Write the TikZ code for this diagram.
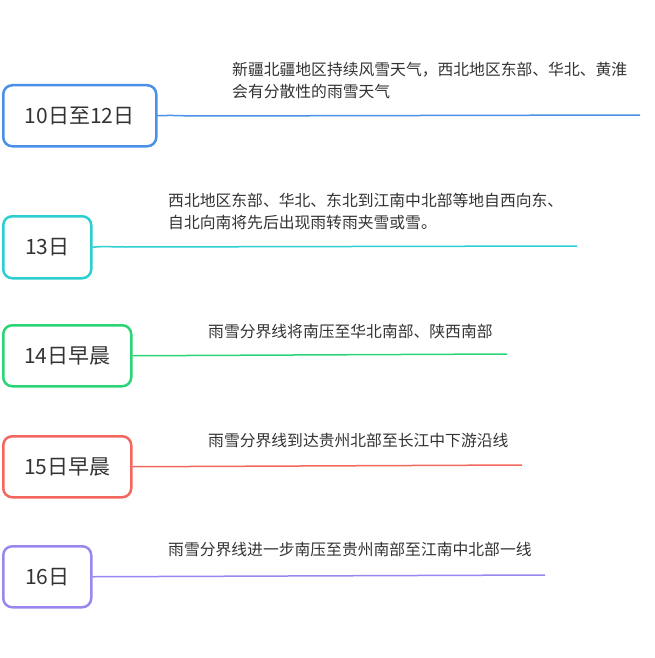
\documentclass[tikz,border=0pt]{standalone}
\usepackage{fontspec}
\setmainfont{Noto Sans CJK SC}
\begin{document}
\begin{tikzpicture}[x=1pt,y=-1pt,
  lab/.style={draw,line width=2.5pt,rounded corners=9pt,anchor=north west,inner sep=0pt,font=\fontsize{21}{24}\selectfont,text=black!80},
  conn/.style={line width=1.5pt},
  txt/.style={anchor=north west,font=\fontsize{15.8}{22}\selectfont,text=black!80,align=left,inner sep=0pt}]
\useasboundingbox (0,0) rectangle (654,658);
\definecolor{cb}{HTML}{4A90E8}\definecolor{cc}{HTML}{2CCFCF}\definecolor{cg}{HTML}{2BD475}
\definecolor{cr}{HTML}{F2675E}\definecolor{cp}{HTML}{9B86F0}
\node[lab,draw=cb,minimum width=153,minimum height=61] (b1) at (2,84) {10日至12日};
\coordinate (e1) at (640,115);
\draw[conn,cb] (b1.east) .. controls (175,115) and (180,116) .. (200,116) -- (e1);
\node[txt] (t1) at (232,62) {新疆北疆地区持续风雪天气，西北地区东部、华北、黄淮\\会有分散性的雨雪天气};
\node[lab,draw=cc,minimum width=88,minimum height=62] (b2) at (2,215) {13日};
\coordinate (e2) at (577,246);
\draw[conn,cc] (b2.east) .. controls (105,246) and (110,247) .. (125,247) -- (e2);
\node[txt] (t2) at (168,193) {西北地区东部、华北、东北到江南中北部等地自西向东、\\自北向南将先后出现雨转雨夹雪或雪。};
\node[lab,draw=cg,minimum width=128,minimum height=61] (b3) at (2,324) {14日早晨};
\coordinate (e3) at (507,354);
\draw[conn,cg] (b3.east) -- (e3);
\node[txt] (t3) at (208,324) {雨雪分界线将南压至华北南部、陕西南部};
\node[lab,draw=cr,minimum width=128,minimum height=61] (b4) at (2,435) {15日早晨};
\coordinate (e4) at (522,465);
\draw[conn,cr] (b4.east) -- (e4);
\node[txt] (t4) at (208,433) {雨雪分界线到达贵州北部至长江中下游沿线};
\node[lab,draw=cp,minimum width=88,minimum height=61] (b5) at (2,545) {16日};
\coordinate (e5) at (545,575);
\draw[conn,cp] (b5.east) -- (e5);
\node[txt] (t5) at (168,542) {雨雪分界线进一步南压至贵州南部至江南中北部一线};
\end{tikzpicture}
\end{document}
